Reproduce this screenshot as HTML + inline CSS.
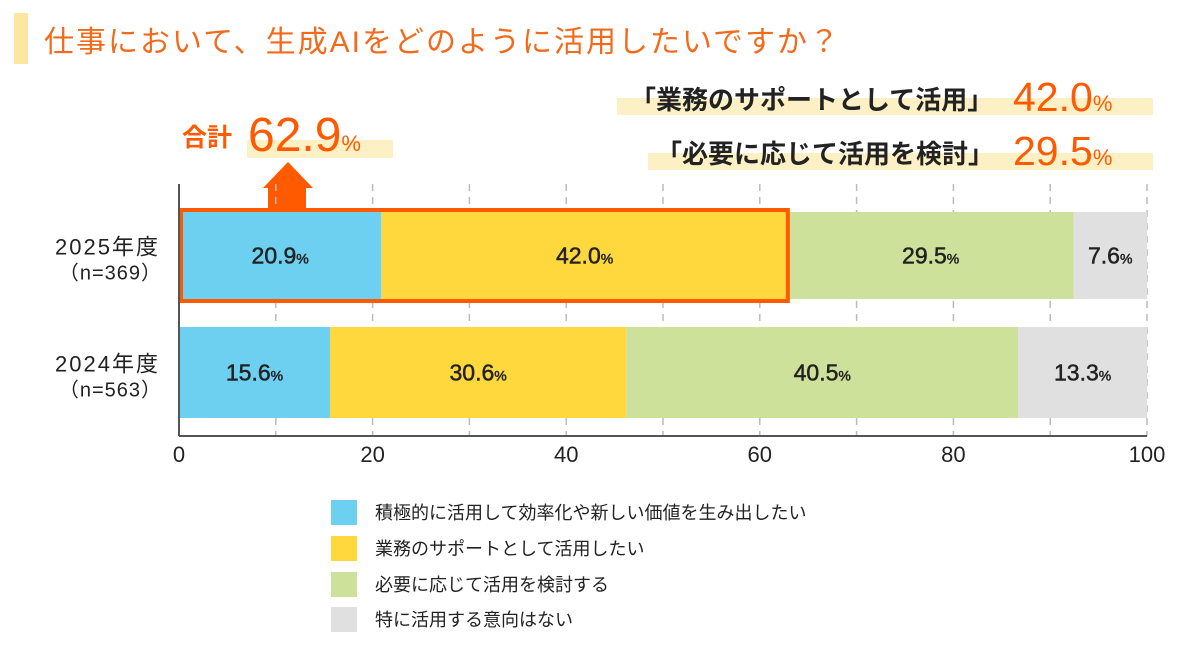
<!DOCTYPE html>
<html><head><meta charset="utf-8">
<style>
body{margin:0;background:#fff;}
svg{display:block;font-family:"Liberation Sans","Noto Sans CJK JP",sans-serif;}
</style></head>
<body>
<svg id="chart" width="1200" height="648" viewBox="0 0 1200 648">
  <rect x="14" y="13" width="14" height="51" fill="#fde7a0"/>
  <text x="44" y="52" font-size="30" fill="#f26b1d" letter-spacing="2">仕事において、生成AIをどのように活用したいですか？</text>

  <rect x="617" y="98" width="536" height="17" fill="#fdf0c4"/>
  <text x="630" y="109" font-size="26" font-weight="bold" fill="#222">「業務のサポートとして活用」</text>
  <text x="1013" y="111" font-size="41" fill="#ff5a00">42.0<tspan font-size="22">%</tspan></text>
  <rect x="648" y="153" width="505" height="17" fill="#fdf0c4"/>
  <text x="656" y="163" font-size="26" font-weight="bold" fill="#222">「必要に応じて活用を検討」</text>
  <text x="1013" y="165" font-size="41" fill="#ff5a00">29.5<tspan font-size="22">%</tspan></text>

  <rect x="247" y="140" width="146" height="18" fill="#fdf0c4"/>
  <text x="182" y="146" font-size="25" font-weight="bold" fill="#ff5a00">合計</text>
  <text x="248" y="151" font-size="48" fill="#ff5a00">62.9<tspan font-size="22">%</tspan></text>
  <polygon points="288,162 313,188 306,188 306,210 268,210 268,188 263,188" fill="#ff5a00"/>

  <g id="grid"></g>
  <g id="bars"></g>
  <g id="axes"></g>
  <g id="legend"></g>
</svg>
<script>
const categories = ["2025年度", "2024年度"];
const samples = ["（n=369）", "（n=563）"];
const seriesNames = ["積極的に活用して効率化や新しい価値を生み出したい","業務のサポートとして活用したい","必要に応じて活用を検討する","特に活用する意向はない"];
const series1 = [20.9, 15.6];
const series2 = [42.0, 30.6];
const series3 = [29.5, 40.5];
const series4 = [7.6, 13.3];
const ticks = [0, 20, 40, 60, 80, 100];
const colors = ["#6dd0f0", "#ffd83d", "#cde19a", "#e0e0e0"];

const NS = "http://www.w3.org/2000/svg";
const X0 = 179, X1 = 1147, TOP = 184, BOTTOM = 436;
const rowTop = [212, 327], rowH = [87, 91];
function xs(v){ return X0 + (X1 - X0) * v / 100; }
function mk(tag, attrs, parent){ const e=document.createElementNS(NS,tag); for(const k in attrs) e.setAttribute(k,attrs[k]); parent.appendChild(e); return e; }

const grid = document.getElementById('grid');
for (let v = 10; v <= 100; v += 10) {
  const l = mk('line', {x1:xs(v), x2:xs(v), y1:TOP, y2:BOTTOM, stroke:'#bbb', 'stroke-width':1.5, 'stroke-dasharray':'7,6'}, grid);
  
  
}

const bars = document.getElementById('bars');
const all = [series1, series2, series3, series4];
categories.forEach((c, i) => {
  let acc = 0;
  all.forEach((s, j) => {
    const v = s[i];
    const r = mk('rect', {x:xs(acc), y:rowTop[i], width:xs(acc+v)-xs(acc), height:rowH[i], fill:colors[j]}, bars);
    
    
    const t = mk('text', {x:(xs(acc)+xs(acc+v))/2, y:rowTop[i]+rowH[i]/2+8, 'text-anchor':'middle', 'font-size':23, fill:'#222', stroke:'#222', 'stroke-width':0.5}, bars);
    
    
    t.textContent = v.toFixed(1);
    const p = mk('tspan', {'font-size':14}, t); p.textContent = '%';
    acc += v;
  });
  const yl = mk('text', {x:160, y:rowTop[i]+rowH[i]/2-1, 'text-anchor':'end', 'font-size':22, fill:'#222', 'letter-spacing':2}, bars);
  
  
  yl.textContent = c;
  const ys = mk('text', {x:162, y:rowTop[i]+rowH[i]/2+24, 'text-anchor':'end', 'font-size':20, fill:'#222', 'letter-spacing':1}, bars);
  
  
  ys.textContent = samples[i];
});
const hb = mk('rect', {x:xs(0)+2, y:rowTop[0]-2, width:xs(series1[0]+series2[0])-xs(0)-2, height:rowH[0]+4, fill:'none', stroke:'#ff5a00', 'stroke-width':4}, bars);



const axes = document.getElementById('axes');
const ya = mk('line', {x1:X0, x2:X0, y1:TOP, y2:BOTTOM, stroke:'#555', 'stroke-width':2}, axes);


const xa = mk('line', {x1:X0, x2:X1, y1:BOTTOM, y2:BOTTOM, stroke:'#555', 'stroke-width':2}, axes);


ticks.forEach(v => {
  const t = mk('text', {x:xs(v), y:462, 'text-anchor':'middle', 'font-size':22, fill:'#222'}, axes);
  
  
  t.textContent = v;
});

const legend = document.getElementById('legend');
const ly = [500, 536, 572, 607];
seriesNames.forEach((n, j) => {
  const r = mk('rect', {x:331, y:ly[j], width:26, height:25, fill:colors[j]}, legend);
  
  
  const t = mk('text', {x:375, y:ly[j]+19, 'font-size':18, fill:'#222'}, legend);
  
  
  t.textContent = n;
});
</script>
</body></html>
